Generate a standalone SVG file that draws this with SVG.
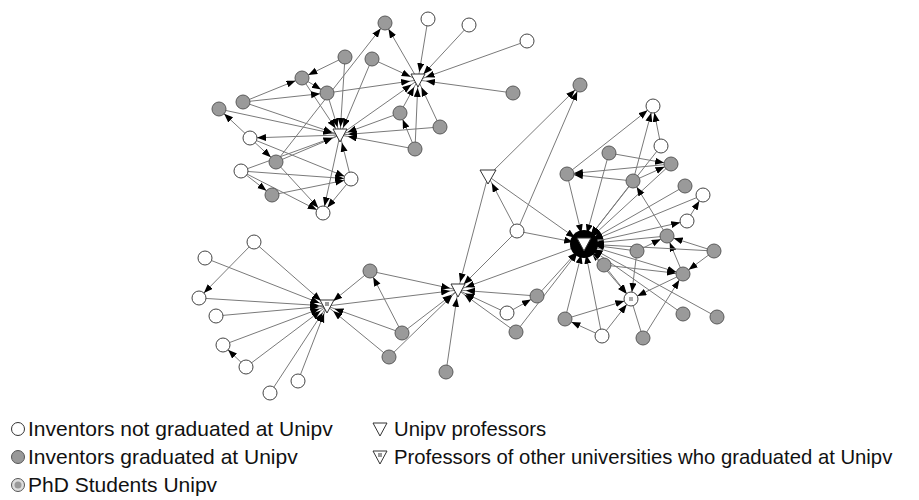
<svg xmlns="http://www.w3.org/2000/svg" width="919" height="500" viewBox="0 0 919 500">
<style>
.e{stroke:#7a7a7a;stroke-width:1;fill:none}
.a{marker-end:url(#a)}
.h{marker-end:url(#h)}
.b{marker-end:url(#hb)}
.g{fill:#9a9a9a;stroke:#5a5a5a;stroke-width:1}
.w{fill:#fff;stroke:#444;stroke-width:1}
.t{fill:#fff;stroke:#333;stroke-width:1}
.lg{font-family:"Liberation Sans",Arial,sans-serif;font-size:21px;fill:#111}
.lg2{font-family:"Liberation Sans",Arial,sans-serif;font-size:20.3px;fill:#111}
</style>
<defs>
<marker id="a" markerUnits="userSpaceOnUse" markerWidth="20" markerHeight="8" refX="16" refY="3.5" orient="auto"><path d="M0,0 L9,3.5 L0,7 z" fill="#000"/></marker>
<marker id="h" markerUnits="userSpaceOnUse" markerWidth="20" markerHeight="8" refX="17" refY="3.5" orient="auto"><path d="M0,0 L9,3.5 L0,7 z" fill="#000"/></marker>
<marker id="hb" markerUnits="userSpaceOnUse" markerWidth="24" markerHeight="8" refX="20" refY="3.5" orient="auto"><path d="M0,0 L9,3.5 L0,7 z" fill="#000"/></marker>
</defs>
<g id="connectors">
<line class="e a" x1="418" y1="80" x2="385" y2="23"/>
<line class="e a" x1="276" y1="162" x2="385" y2="23"/>
<line class="e h" x1="428" y1="19" x2="418" y2="80"/>
<line class="e h" x1="469" y1="25" x2="418" y2="80"/>
<line class="e h" x1="527" y1="41" x2="418" y2="80"/>
<line class="e h" x1="372" y1="59" x2="418" y2="80"/>
<line class="e h" x1="513" y1="93" x2="418" y2="80"/>
<line class="e h" x1="400" y1="113" x2="418" y2="80"/>
<line class="e h" x1="440" y1="127" x2="418" y2="80"/>
<line class="e h" x1="415" y1="149" x2="418" y2="80"/>
<line class="e h" x1="327" y1="93" x2="418" y2="80"/>
<line class="e h" x1="340" y1="135" x2="418" y2="80"/>
<line class="e h" x1="345" y1="57" x2="340" y2="135"/>
<line class="e h" x1="372" y1="59" x2="340" y2="135"/>
<line class="e h" x1="400" y1="113" x2="340" y2="135"/>
<line class="e h" x1="440" y1="127" x2="340" y2="135"/>
<line class="e h" x1="415" y1="149" x2="340" y2="135"/>
<line class="e h" x1="302" y1="78" x2="340" y2="135"/>
<line class="e h" x1="327" y1="93" x2="340" y2="135"/>
<line class="e h" x1="243" y1="102" x2="340" y2="135"/>
<line class="e h" x1="219" y1="109" x2="340" y2="135"/>
<line class="e h" x1="276" y1="162" x2="340" y2="135"/>
<line class="e h" x1="241" y1="171" x2="340" y2="135"/>
<line class="e h" x1="351" y1="179" x2="340" y2="135"/>
<line class="e a" x1="415" y1="149" x2="400" y2="113"/>
<line class="e a" x1="345" y1="57" x2="302" y2="78"/>
<line class="e a" x1="243" y1="102" x2="302" y2="78"/>
<line class="e a" x1="302" y1="78" x2="327" y2="93"/>
<line class="e a" x1="243" y1="102" x2="327" y2="93"/>
<line class="e a" x1="250" y1="138" x2="219" y2="109"/>
<line class="e a" x1="250" y1="138" x2="276" y2="162"/>
<line class="e a" x1="250" y1="138" x2="351" y2="179"/>
<line class="e a" x1="340" y1="135" x2="250" y2="138"/>
<line class="e a" x1="241" y1="171" x2="272" y2="195"/>
<line class="e a" x1="241" y1="171" x2="351" y2="179"/>
<line class="e a" x1="272" y1="195" x2="351" y2="179"/>
<line class="e a" x1="241" y1="171" x2="323" y2="213"/>
<line class="e a" x1="276" y1="162" x2="323" y2="213"/>
<line class="e a" x1="340" y1="135" x2="323" y2="213"/>
<line class="e a" x1="351" y1="179" x2="323" y2="213"/>
<line class="e a" x1="488" y1="176" x2="580" y2="85"/>
<line class="e a" x1="517" y1="231" x2="580" y2="85"/>
<line class="e h" x1="517" y1="231" x2="488" y2="176"/>
<line class="e h" x1="488" y1="176" x2="458" y2="290"/>
<line class="e b" x1="488" y1="176" x2="584" y2="244"/>
<line class="e b" x1="517" y1="231" x2="584" y2="244"/>
<line class="e h" x1="517" y1="231" x2="458" y2="290"/>
<line class="e h" x1="370" y1="271" x2="458" y2="290"/>
<line class="e h" x1="370" y1="271" x2="327" y2="306"/>
<line class="e a" x1="402" y1="333" x2="370" y2="271"/>
<line class="e h" x1="402" y1="333" x2="458" y2="290"/>
<line class="e h" x1="402" y1="333" x2="327" y2="306"/>
<line class="e h" x1="389" y1="357" x2="458" y2="290"/>
<line class="e h" x1="389" y1="357" x2="327" y2="306"/>
<line class="e h" x1="446" y1="372" x2="458" y2="290"/>
<line class="e h" x1="537" y1="296" x2="458" y2="290"/>
<line class="e b" x1="537" y1="296" x2="584" y2="244"/>
<line class="e h" x1="507" y1="313" x2="458" y2="290"/>
<line class="e a" x1="507" y1="313" x2="537" y2="296"/>
<line class="e h" x1="516" y1="332" x2="458" y2="290"/>
<line class="e b" x1="516" y1="332" x2="584" y2="244"/>
<line class="e h" x1="327" y1="306" x2="458" y2="290"/>
<line class="e h" x1="584" y1="244" x2="458" y2="290"/>
<line class="e b" x1="567" y1="174" x2="584" y2="244"/>
<line class="e a" x1="567" y1="174" x2="653" y2="106"/>
<line class="e h" x1="254" y1="242" x2="327" y2="306"/>
<line class="e a" x1="254" y1="242" x2="199" y2="298"/>
<line class="e h" x1="205" y1="258" x2="327" y2="306"/>
<line class="e h" x1="199" y1="298" x2="327" y2="306"/>
<line class="e h" x1="216" y1="316" x2="327" y2="306"/>
<line class="e h" x1="223" y1="345" x2="327" y2="306"/>
<line class="e a" x1="246" y1="367" x2="223" y2="345"/>
<line class="e h" x1="246" y1="367" x2="327" y2="306"/>
<line class="e h" x1="298" y1="381" x2="327" y2="306"/>
<line class="e h" x1="270" y1="393" x2="327" y2="306"/>
<line class="e a" x1="633" y1="181" x2="653" y2="106"/>
<line class="e a" x1="661" y1="146" x2="653" y2="106"/>
<line class="e a" x1="609" y1="153" x2="671" y2="164"/>
<line class="e b" x1="609" y1="153" x2="584" y2="244"/>
<line class="e a" x1="671" y1="164" x2="567" y2="174"/>
<line class="e a" x1="633" y1="181" x2="567" y2="174"/>
<line class="e a" x1="633" y1="181" x2="671" y2="164"/>
<line class="e b" x1="671" y1="164" x2="584" y2="244"/>
<line class="e b" x1="633" y1="181" x2="584" y2="244"/>
<line class="e b" x1="661" y1="146" x2="584" y2="244"/>
<line class="e b" x1="685" y1="186" x2="584" y2="244"/>
<line class="e b" x1="703" y1="195" x2="584" y2="244"/>
<line class="e b" x1="667" y1="236" x2="584" y2="244"/>
<line class="e a" x1="687" y1="221" x2="703" y2="195"/>
<line class="e a" x1="584" y1="244" x2="687" y2="221"/>
<line class="e a" x1="667" y1="236" x2="633" y2="181"/>
<line class="e a" x1="637" y1="251" x2="667" y2="236"/>
<line class="e a" x1="714" y1="251" x2="667" y2="236"/>
<line class="e a" x1="683" y1="274" x2="667" y2="236"/>
<line class="e a" x1="714" y1="251" x2="683" y2="274"/>
<line class="e a" x1="584" y1="244" x2="683" y2="274"/>
<line class="e a" x1="604" y1="265" x2="683" y2="274"/>
<line class="e b" x1="637" y1="251" x2="584" y2="244"/>
<line class="e b" x1="604" y1="265" x2="584" y2="244"/>
<line class="e b" x1="714" y1="251" x2="584" y2="244"/>
<line class="e a" x1="604" y1="265" x2="631" y2="299"/>
<line class="e a" x1="637" y1="251" x2="631" y2="299"/>
<line class="e a" x1="683" y1="274" x2="631" y2="299"/>
<line class="e a" x1="565" y1="319" x2="631" y2="299"/>
<line class="e a" x1="602" y1="336" x2="631" y2="299"/>
<line class="e a" x1="584" y1="244" x2="631" y2="299"/>
<line class="e a" x1="643" y1="338" x2="683" y2="274"/>
<line class="e" x1="631" y1="299" x2="643" y2="338"/>
<line class="e b" x1="683" y1="314" x2="584" y2="244"/>
<line class="e b" x1="717" y1="317" x2="584" y2="244"/>
<line class="e b" x1="565" y1="319" x2="584" y2="244"/>
<line class="e b" x1="602" y1="336" x2="584" y2="244"/>
<line class="e a" x1="602" y1="336" x2="565" y2="319"/>
</g>
<g id="H1"><polygon class="t" points="333,129 347,129 340,142"/></g>
<g id="H2"><polygon class="t" points="411,74 425,74 418,87"/></g>
<g id="H6"><polygon class="t" points="480,170 496,170 488,184"/></g>
<g id="H4"><polygon class="t" points="451,284 465,284 458,297"/></g>
<g id="H5"><polygon class="t" points="320,300 334,300 327,313"/><rect x="325" y="302" width="4" height="4" fill="#999"/></g>
<g id="H3"><circle cx="584" cy="244" r="14" fill="#000"/><polygon points="577,238 591,238 584,251" fill="#fff" stroke="#333"/></g>
<g id="g1"><circle class="g" cx="385" cy="23" r="7"/></g>
<g id="w1"><circle class="w" cx="428" cy="19" r="7"/></g>
<g id="w2"><circle class="w" cx="469" cy="25" r="7"/></g>
<g id="w3"><circle class="w" cx="527" cy="41" r="7"/></g>
<g id="g2"><circle class="g" cx="345" cy="57" r="7"/></g>
<g id="g3"><circle class="g" cx="372" cy="59" r="7"/></g>
<g id="g4"><circle class="g" cx="302" cy="78" r="7"/></g>
<g id="g5"><circle class="g" cx="327" cy="93" r="7"/></g>
<g id="g6"><circle class="g" cx="243" cy="102" r="7"/></g>
<g id="g7"><circle class="g" cx="219" cy="109" r="7"/></g>
<g id="g8"><circle class="g" cx="513" cy="93" r="7"/></g>
<g id="g9"><circle class="g" cx="400" cy="113" r="7"/></g>
<g id="g10"><circle class="g" cx="440" cy="127" r="7"/></g>
<g id="g11"><circle class="g" cx="415" cy="149" r="7"/></g>
<g id="w4"><circle class="w" cx="250" cy="138" r="7"/></g>
<g id="g12"><circle class="g" cx="276" cy="162" r="7"/></g>
<g id="w5"><circle class="w" cx="241" cy="171" r="7"/></g>
<g id="w6"><circle class="w" cx="351" cy="179" r="7"/></g>
<g id="g13"><circle class="g" cx="272" cy="195" r="7"/></g>
<g id="w7"><circle class="w" cx="323" cy="213" r="7"/></g>
<g id="ga"><circle class="g" cx="580" cy="85" r="7"/></g>
<g id="wb"><circle class="w" cx="517" cy="231" r="7"/></g>
<g id="gc"><circle class="g" cx="567" cy="174" r="7"/></g>
<g id="gd"><circle class="g" cx="370" cy="271" r="7"/></g>
<g id="ge"><circle class="g" cx="402" cy="333" r="7"/></g>
<g id="gf"><circle class="g" cx="389" cy="357" r="7"/></g>
<g id="gg"><circle class="g" cx="446" cy="372" r="7"/></g>
<g id="gh"><circle class="g" cx="537" cy="296" r="7"/></g>
<g id="wi"><circle class="w" cx="507" cy="313" r="7"/></g>
<g id="gj"><circle class="g" cx="516" cy="332" r="7"/></g>
<g id="l1"><circle class="w" cx="254" cy="242" r="7"/></g>
<g id="l2"><circle class="w" cx="205" cy="258" r="7"/></g>
<g id="l3"><circle class="w" cx="199" cy="298" r="7"/></g>
<g id="l4"><circle class="w" cx="216" cy="316" r="7"/></g>
<g id="l5"><circle class="w" cx="223" cy="345" r="7"/></g>
<g id="l6"><circle class="w" cx="246" cy="367" r="7"/></g>
<g id="l7"><circle class="w" cx="298" cy="381" r="7"/></g>
<g id="l8"><circle class="w" cx="270" cy="393" r="7"/></g>
<g id="r1"><circle class="w" cx="653" cy="106" r="7"/></g>
<g id="r2"><circle class="w" cx="661" cy="146" r="7"/></g>
<g id="r3"><circle class="g" cx="609" cy="153" r="7"/></g>
<g id="r4"><circle class="g" cx="671" cy="164" r="7"/></g>
<g id="r5"><circle class="g" cx="633" cy="181" r="7"/></g>
<g id="r6"><circle class="g" cx="685" cy="186" r="7"/></g>
<g id="r7"><circle class="w" cx="703" cy="195" r="7"/></g>
<g id="r8"><circle class="w" cx="687" cy="221" r="7"/></g>
<g id="r9"><circle class="g" cx="667" cy="236" r="7"/></g>
<g id="r10"><circle class="g" cx="714" cy="251" r="7"/></g>
<g id="r11"><circle class="g" cx="637" cy="251" r="7"/></g>
<g id="r12"><circle class="g" cx="604" cy="265" r="7"/></g>
<g id="r13"><circle class="g" cx="683" cy="274" r="7"/></g>
<g id="phd"><circle class="w" cx="631" cy="299" r="7"/><rect x="629" y="297" width="4" height="4" fill="#aaa"/></g>
<g id="r14"><circle class="g" cx="683" cy="314" r="7"/></g>
<g id="r15"><circle class="g" cx="717" cy="317" r="7"/></g>
<g id="r16"><circle class="g" cx="565" cy="319" r="7"/></g>
<g id="r17"><circle class="w" cx="602" cy="336" r="7"/></g>
<g id="r18"><circle class="g" cx="643" cy="338" r="7"/></g>
<g id="legend">
<circle cx="18" cy="429" r="6.5" fill="#fff" stroke="#333"/>
<text class="lg" x="28" y="436">Inventors not graduated at Unipv</text>
<circle cx="18" cy="457" r="6.5" fill="#999" stroke="#555"/>
<text class="lg" x="28" y="464">Inventors graduated at Unipv</text>
<circle cx="18" cy="485" r="6.5" fill="#ddd" stroke="#555"/>
<circle cx="18" cy="485" r="3.5" fill="#999"/>
<text class="lg" x="28" y="492">PhD Students Unipv</text>
<polygon points="373,423 387,423 380,436" fill="#fff" stroke="#333"/>
<text class="lg2" x="394" y="436">Unipv professors</text>
<polygon points="373,451 387,451 380,464" fill="#fff" stroke="#333"/>
<rect x="378" y="453" width="4" height="4" fill="#999"/>
<text class="lg2" x="394" y="464">Professors of other universities who graduated at Unipv</text>
</g>
</svg>
